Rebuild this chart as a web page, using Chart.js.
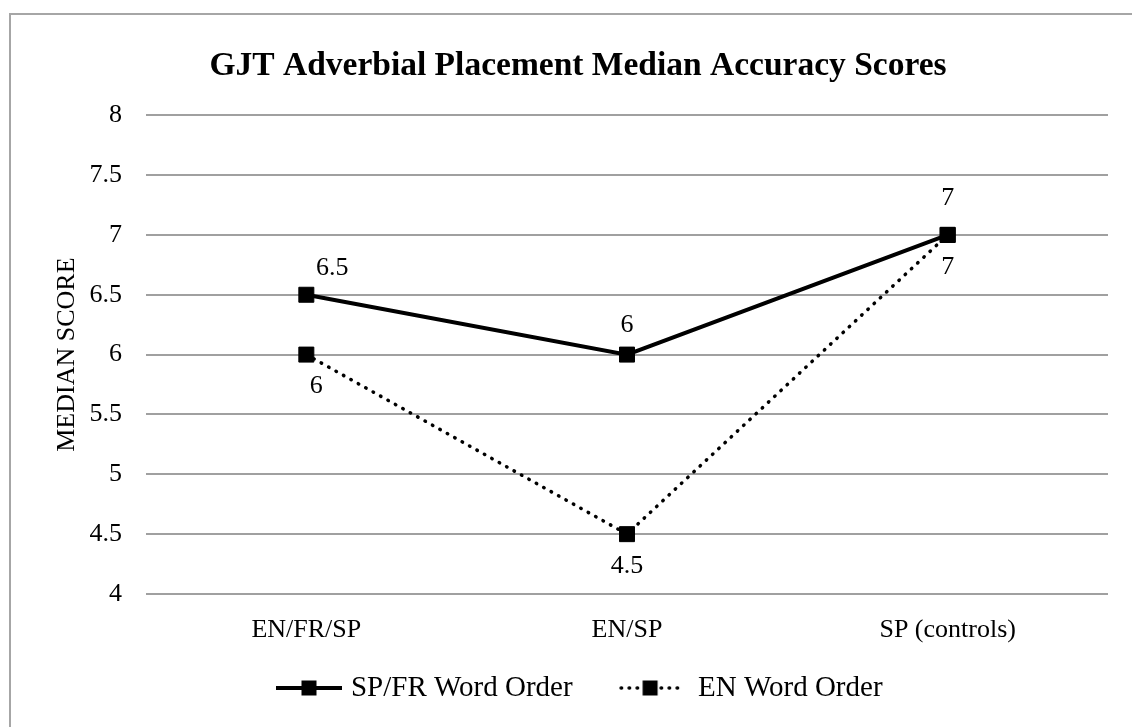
<!DOCTYPE html>
<html>
<head>
<meta charset="utf-8">
<script src="https://cdn.jsdelivr.net/npm/chart.js@4/dist/chart.umd.min.js"></script>
<style>
  html, body { margin: 0; padding: 0; background: #fff; overflow: hidden; }
  #wrap { position: relative; width: 1132px; height: 727px; }
  #frame { position: absolute; left: 9px; top: 13px; right: -5px; bottom: -5px;
           border-left: 2px solid #a6a6a6; border-top: 2px solid #a6a6a6; pointer-events: none; }
</style>
</head>
<body>
<div id="wrap">
  <canvas id="gjtChart"></canvas>
  <div id="frame"></div>
</div>
<script>
// dados
const categorias = ['EN/FR/SP', 'EN/SP', 'SP (controls)'];
const spfrOrder = [6.5, 6, 7];
const enOrder = [6, 4.5, 7];
const yTicks = [4, 4.5, 5, 5.5, 6, 6.5, 7, 7.5, 8];

const serif = '"Liberation Serif", "Times New Roman", serif';

// amostras da legenda (linha + quadrado); "desloc" empurra a amostra para a direita
function amostraLegenda(w, desloc, pontilhada) {
    const c = document.createElement('canvas');
    c.width = w + 2 * desloc; c.height = 18;
    const g = c.getContext('2d');
    const x0 = 2 * desloc;
    g.strokeStyle = '#000';
    g.fillStyle = '#000';
    if (pontilhada) {
        g.lineWidth = 3.5;
        g.lineCap = 'round';
        g.setLineDash([0.5, 7.5]);
    } else {
        g.lineWidth = 4;
    }
    g.beginPath();
    g.moveTo(x0 + 2, 9);
    g.lineTo(x0 + w - 2, 9);
    g.stroke();
    g.fillRect(x0 + w / 2 - 7.5, 1.5, 15, 15);
    return c;
}
const amostras = [amostraLegenda(70, 16, false), amostraLegenda(62, 10, true)];

// rótulos de dados (acima / abaixo do ponto)
const rotulosPlugin = {
    id: 'rotulos',
    afterLayout(chart) {
        // legenda um pouco à esquerda, como no original
        const lg = chart.legend;
        if (lg) { lg.left -= 12; lg.right -= 12; }
    },
    afterDatasetsDraw(chart) {
        const ctx = chart.ctx;
        const dyAcima = [-27, -29, -37];
        ctx.save();
        ctx.font = '26px ' + serif;
        ctx.fillStyle = '#000';
        ctx.textAlign = 'center';
        ctx.textBaseline = 'middle';
        chart.data.datasets.forEach((ds, i) => {
            const meta = chart.getDatasetMeta(i);
            const acima = i === 0;
            meta.data.forEach((pt, j) => {
                let dx = 0;
                if (j === 0) dx = acima ? 26 : 10;
                const dy = acima ? dyAcima[j] : 32;
                ctx.fillText(String(ds.data[j]), pt.x + dx, pt.y + dy);
            });
        });
        ctx.restore();
    }
};

const ctx = document.getElementById('gjtChart').getContext('2d');
const chart = new Chart(ctx, {
    type: 'line',
    data: {
        labels: categorias,
        datasets: [{
            label: 'SP/FR Word Order',
            data: spfrOrder,
            borderColor: '#000',
            backgroundColor: '#000',
            borderWidth: 4,
            pointStyle: 'rect',
            pointRadius: 10.6,
            pointBorderWidth: 1,
            pointBackgroundColor: '#000',
            pointBorderColor: '#000',
            tension: 0
        }, {
            label: 'EN Word Order',
            data: enOrder,
            borderColor: '#000',
            backgroundColor: '#000',
            borderWidth: 3.5,
            borderDash: [0.5, 8],
            borderCapStyle: 'round',
            pointStyle: 'rect',
            pointRadius: 10.6,
            pointBorderWidth: 1,
            pointBackgroundColor: '#000',
            pointBorderColor: '#000',
            tension: 0
        }]
    },
    options: {
        responsive: true,
        maintainAspectRatio: false,
        animation: false,
        layout: { padding: { left: 48, right: 24, top: 0, bottom: 14.5 } },
        scales: {
            x: {
                offset: true,
                afterFit: (scale) => { scale.height = 55.5; },
                grid: { display: false, drawTicks: false },
                border: { display: false },
                ticks: { color: '#000', font: { family: serif, size: 26 }, padding: 21 }
            },
            y: {
                min: 4,
                max: 8,
                afterBuildTicks: (scale) => { scale.ticks = yTicks.map(v => ({ value: v })); },
                afterFit: (scale) => { scale.width = 98; },
                grid: { color: '#a0a0a0', lineWidth: 2, drawTicks: false },
                border: { display: false },
                ticks: {
                    color: '#000',
                    font: { family: serif, size: 26 },
                    padding: 24,
                    callback: (v) => String(v)
                },
                title: {
                    display: true,
                    text: 'MEDIAN SCORE',
                    color: '#000',
                    font: { family: serif, size: 26 }
                }
            }
        },
        plugins: {
            title: {
                display: true,
                text: 'GJT Adverbial Placement Median Accuracy Scores',
                color: '#000',
                font: { family: serif, size: 33.5, weight: 'bold' },
                padding: { top: 46, bottom: 29 }
            },
            legend: {
                position: 'bottom',
                labels: {
                    color: '#000',
                    font: { family: serif, size: 29 },
                    usePointStyle: true,
                    pointStyleWidth: 87,
                    padding: 24,
                    generateLabels: (c) => {
                        const itens = Chart.defaults.plugins.legend.labels.generateLabels(c);
                        itens.forEach((it, i) => { it.pointStyle = amostras[i]; });
                        return itens;
                    }
                }
            },
            tooltip: { enabled: false }
        }
    },
    plugins: [rotulosPlugin]
});
</script>
</body>
</html>
